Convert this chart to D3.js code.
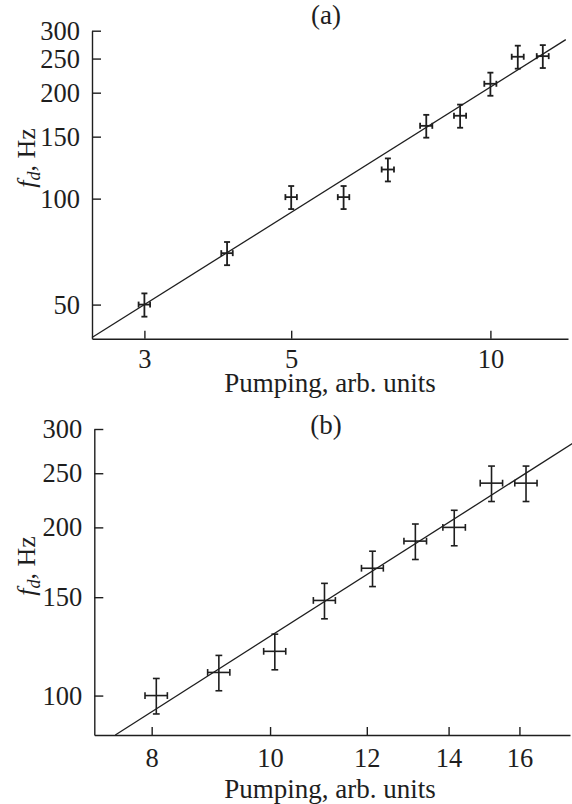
<!DOCTYPE html>
<html>
<head>
<meta charset="utf-8">
<script src="https://cdn.jsdelivr.net/npm/d3@7"></script>
<style>
  body { margin: 0; background: #fff; }
  svg { display: block; }
  text { font-family: "Liberation Serif", "Times New Roman", serif; fill: #1e1e1e; }
  .axis path, .axis line { stroke: #1e1e1e; stroke-width: 1.4; }
  .axis text { font-size: 26.5px; font-family: "Liberation Serif", serif; fill: #1e1e1e; }
</style>
</head>
<body>
<div id="chart"></div>
<script>
// panel (a)
var pumpA    = [3, 4, 5, 6, 7, 8, 9, 10, 11, 12];
var freqA    = [50, 70, 101, 101, 121, 161, 172, 212, 253, 254];
var pumpErrA = [0.06, 0.08, 0.1, 0.12, 0.15, 0.17, 0.19, 0.21, 0.23, 0.25];
var freqErrA = [3.8, 5.3, 7.6, 7.6, 9.1, 12, 13, 16, 19, 19];
var fitA     = [[2.5, 40.3], [13.0, 283]];
var xDomA = [2.5, 13.1], yDomA = [40, 300];
var xTicksA = [3, 5, 10];
var yTicksA = [50, 100, 150, 200, 250, 300];

// panel (b)
var pumpB    = [8.07, 9.08, 10.09, 11.08, 12.13, 13.15, 14.15, 15.18, 16.2];
var freqB    = [100, 110, 120, 148, 169, 189, 200, 240, 240];
var pumpErrB = [0.17, 0.19, 0.21, 0.23, 0.25, 0.28, 0.3, 0.32, 0.34];
var freqErrB = [7.3, 8, 8.8, 10.8, 12.3, 13.8, 14.6, 17.5, 17.5];
var fitB     = [[7.47, 85], [17.7, 283]];
var xDomB = [7.18, 17.6], yDomB = [85, 300];
var xTicksB = [8, 10, 12, 14, 16];
var yTicksB = [100, 150, 200, 250, 300];

var W = 572, H = 804;

var svg = d3.select("#chart").append("svg")
    .attr("width", W)
    .attr("height", H);

function panel(opt) {
  var x = d3.scaleLog().domain(opt.xDom).range([opt.left, opt.right]);
  var y = d3.scaleLog().domain(opt.yDom).range([opt.bottom, opt.top]);
  var g = svg.append("g");

  g.append("g")
      .attr("class", "axis")
      .attr("transform", "translate(0," + opt.bottom + ")")
      .call(d3.axisBottom(x).tickValues(opt.xTicks).tickFormat(d3.format("d"))
        .tickSizeInner(-8).tickSizeOuter(0).tickPadding(opt.xPad));

  g.append("g")
      .attr("class", "axis")
      .attr("transform", "translate(" + opt.left + ",0)")
      .call(d3.axisLeft(y).tickValues(opt.yTicks).tickFormat(d3.format("d"))
        .tickSizeInner(-9).tickSizeOuter(0).tickPadding(12));

  // fitted power law
  g.append("path")
      .datum(opt.fit)
      .attr("fill", "none")
      .attr("stroke", "#1e1e1e")
      .attr("stroke-width", 1.3)
      .attr("d", d3.line().x(function(d) { return x(d[0]); }).y(function(d) { return y(d[1]); }));

  var pts = opt.px.map(function(p, i) {
    return { x: p, y: opt.py[i], ex: opt.ex[i], ey: opt.ey[i] };
  });

  var bars = g.selectAll(".bar")
      .data(pts)
    .enter().append("g")
      .attr("class", "bar")
      .attr("stroke", "#1e1e1e")
      .attr("stroke-width", opt.sw);

  var cw = opt.cap;
  bars.append("line") // vertical
      .attr("x1", function(d) { return x(d.x); })
      .attr("x2", function(d) { return x(d.x); })
      .attr("y1", function(d) { return y(d.y - d.ey); })
      .attr("y2", function(d) { return y(d.y + d.ey); });
  bars.append("line")
      .attr("x1", function(d) { return x(d.x) - cw; })
      .attr("x2", function(d) { return x(d.x) + cw; })
      .attr("y1", function(d) { return y(d.y + d.ey); })
      .attr("y2", function(d) { return y(d.y + d.ey); });
  bars.append("line")
      .attr("x1", function(d) { return x(d.x) - cw; })
      .attr("x2", function(d) { return x(d.x) + cw; })
      .attr("y1", function(d) { return y(d.y - d.ey); })
      .attr("y2", function(d) { return y(d.y - d.ey); });
  bars.append("line") // horizontal
      .attr("x1", function(d) { return x(d.x - d.ex); })
      .attr("x2", function(d) { return x(d.x + d.ex); })
      .attr("y1", function(d) { return y(d.y); })
      .attr("y2", function(d) { return y(d.y); });
  bars.append("line")
      .attr("x1", function(d) { return x(d.x - d.ex); })
      .attr("x2", function(d) { return x(d.x - d.ex); })
      .attr("y1", function(d) { return y(d.y) - cw; })
      .attr("y2", function(d) { return y(d.y) + cw; });
  bars.append("line")
      .attr("x1", function(d) { return x(d.x + d.ex); })
      .attr("x2", function(d) { return x(d.x + d.ex); })
      .attr("y1", function(d) { return y(d.y) - cw; })
      .attr("y2", function(d) { return y(d.y) + cw; });

  // panel letter
  g.append("text")
      .attr("x", 326)
      .attr("y", opt.titleY)
      .attr("text-anchor", "middle")
      .style("font-size", "27px")
      .text(opt.title);

  // x title
  g.append("text")
      .attr("x", 330)
      .attr("y", opt.xTitleY)
      .attr("text-anchor", "middle")
      .style("font-size", "27px")
      .text("Pumping, arb. units");

  // y title
  var yt = g.append("text")
      .attr("transform", "translate(35," + opt.yTitleY + ") rotate(-90)")
      .attr("text-anchor", "middle")
      .style("font-size", "26px");
  yt.append("tspan").style("font-style", "italic").text("f");
  yt.append("tspan").style("font-style", "italic").style("font-size", "18px")
      .attr("dy", 5).text("d");
  yt.append("tspan").attr("dy", -5).text(", Hz");
}

panel({
  px: pumpA, py: freqA, ex: pumpErrA, ey: freqErrA, fit: fitA,
  xDom: xDomA, yDom: yDomA, xTicks: xTicksA, yTicks: yTicksA,
  left: 92, right: 568, top: 30.7, bottom: 338.7,
  xPad: 10, sw: 1.8, cap: 3,
  title: "(a)", titleY: 24, xTitleY: 392, yTitleY: 158
});

panel({
  px: pumpB, py: freqB, ex: pumpErrB, ey: freqErrB, fit: fitB,
  xDom: xDomB, yDom: yDomB, xTicks: xTicksB, yTicks: yTicksB,
  left: 94.3, right: 570, top: 429, bottom: 735,
  xPad: 13, sw: 1.6, cap: 3.4,
  title: "(b)", titleY: 434, xTitleY: 798, yTitleY: 566
});
</script>
</body>
</html>
